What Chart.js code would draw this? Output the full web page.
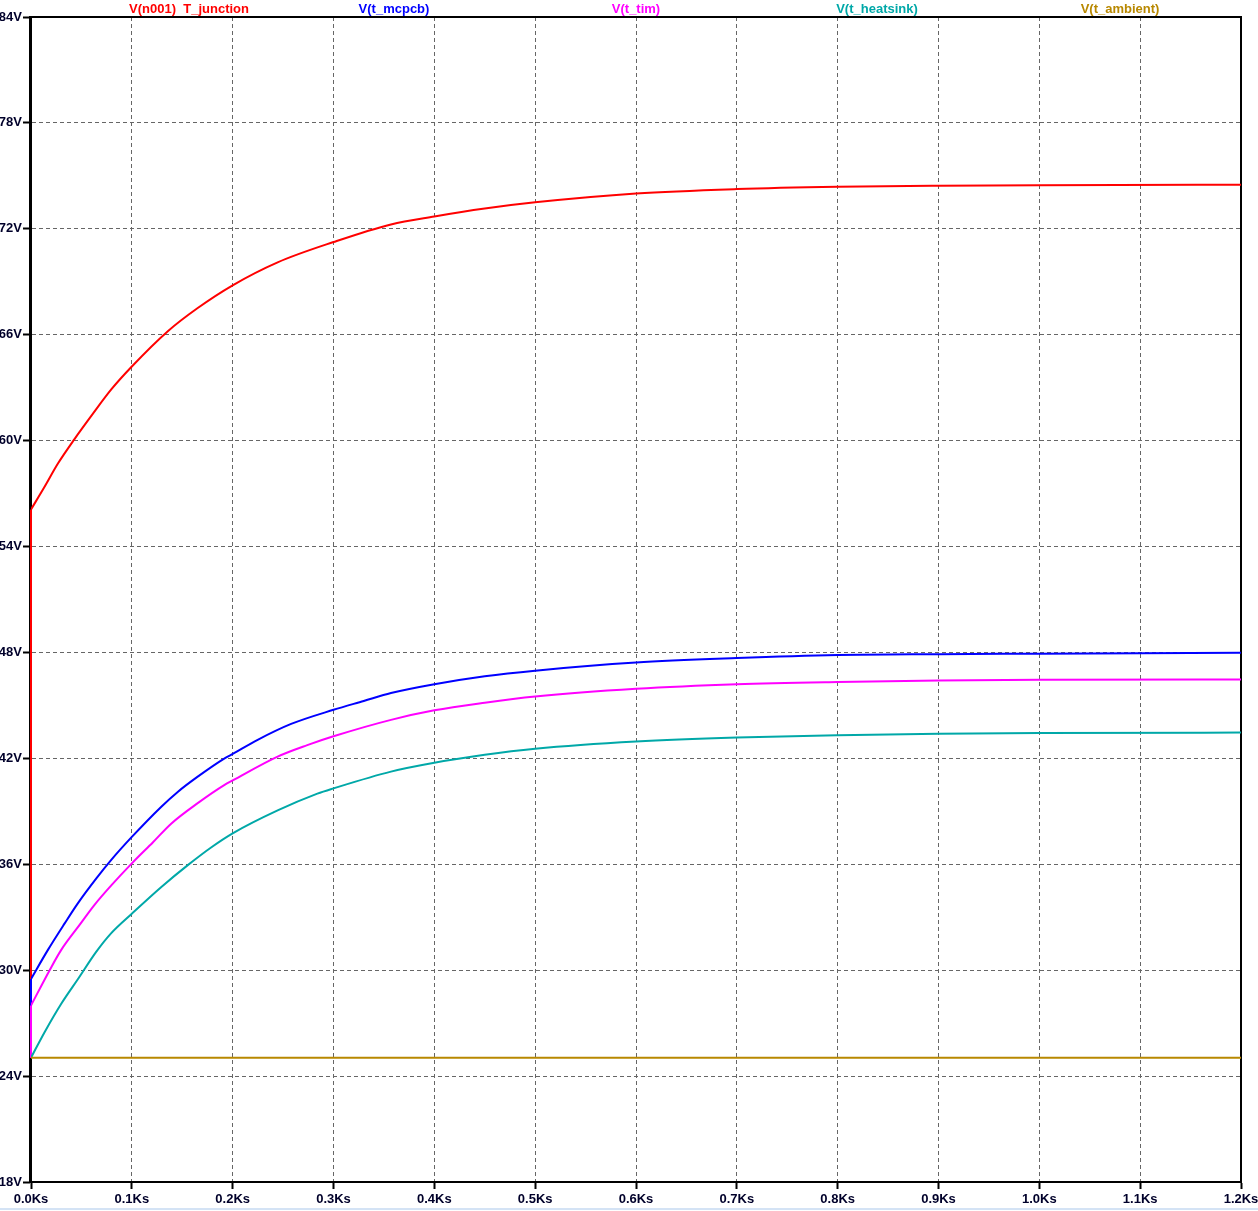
<!DOCTYPE html>
<html>
<head>
<meta charset="utf-8">
<title>LTspice thermal transient</title>
<script src="https://cdn.jsdelivr.net/npm/chart.js@4.4.1/dist/chart.umd.min.js"></script>
<style>
  html, body { margin: 0; padding: 0; background: #fff; }
  #wrap { width: 1258px; height: 1211px; }
</style>
</head>
<body>
<div id="wrap"><canvas id="tempChart"></canvas></div>
<script>
// time in Ks, values in V (= deg C)
const tJunction = [0, 0.0136, 0.0267, 0.0433, 0.0598, 0.0796, 0.1, 0.1357, 0.165, 0.2, 0.2446, 0.3, 0.357, 0.4, 0.45, 0.5, 0.6, 0.7, 0.8, 0.9, 1.0, 1.2];
const vJunction = [56.1, 57.4, 58.7, 60.1, 61.4, 62.9, 64.2, 66.2, 67.5, 68.8, 70.1, 71.25, 72.25, 72.7, 73.15, 73.5, 74.0, 74.25, 74.38, 74.44, 74.47, 74.5];

const tMcpcb = [0, 0.0168, 0.0334, 0.0466, 0.0648, 0.0796, 0.1, 0.129, 0.1455, 0.165, 0.192, 0.2, 0.2248, 0.258, 0.3, 0.33, 0.357, 0.4, 0.45, 0.5, 0.6, 0.7, 0.8, 0.9, 1.0, 1.2];
const vMcpcb = [29.5, 31.15, 32.65, 33.8, 35.2, 36.25, 37.55, 39.25, 40.1, 40.95, 42.0, 42.25, 43.05, 43.95, 44.75, 45.25, 45.7, 46.2, 46.65, 46.97, 47.43, 47.68, 47.85, 47.9, 47.93, 47.99];

const tTim = [0, 0.0185, 0.03, 0.048, 0.063, 0.0796, 0.1, 0.121, 0.139, 0.165, 0.192, 0.2, 0.2446, 0.274, 0.3, 0.357, 0.4, 0.45, 0.5, 0.6, 0.7, 0.8, 0.9, 1.0, 1.2];
const vTim = [28.0, 30.0, 31.15, 32.55, 33.7, 34.8, 36.05, 37.25, 38.3, 39.45, 40.5, 40.75, 42.1, 42.75, 43.25, 44.18, 44.72, 45.15, 45.5, 45.94, 46.2, 46.33, 46.41, 46.45, 46.47];

const tHeatsink = [0, 0.0136, 0.03, 0.0466, 0.0648, 0.0796, 0.1, 0.129, 0.1555, 0.1786, 0.2, 0.2446, 0.284, 0.3, 0.357, 0.4, 0.45, 0.5, 0.6, 0.7, 0.8, 0.9, 1.0, 1.2];
const vHeatsink = [25.04, 26.5, 28.1, 29.5, 31.05, 32.1, 33.2, 34.7, 35.95, 36.95, 37.75, 39.05, 40.0, 40.3, 41.25, 41.75, 42.2, 42.54, 42.95, 43.18, 43.31, 43.39, 43.44, 43.46];

const tAmbient = [0, 1.2];
const vAmbient = [25.04, 25.04];

// step at t = 0: every node starts from ambient
const startLevel = 25.04;

const xTicks = [0, 0.1, 0.2, 0.3, 0.4, 0.5, 0.6, 0.7, 0.8, 0.9, 1.0, 1.1, 1.2];
const yTicks = [18, 24, 30, 36, 42, 48, 54, 60, 66, 72, 78, 84];

const traceNames = ["V(n001)  T_junction", "V(t_mcpcb)", "V(t_tim)", "V(t_heatsink)", "V(t_ambient)"];
const traceColors = ["#ff0000", "#0000ff", "#ff00ff", "#00a8a8", "#b88800"];
const traceLabelX = [189, 394, 636, 877, 1120];

function pts(ts, vs) {
  return ts.map((t, i) => ({ x: t, y: vs[i] }));
}
// vertical step segment at t = 0
function stepSet(vs, color, order) {
  return {
    label: 'step',
    data: [{ x: 0, y: startLevel }, { x: 0, y: vs[0] }],
    borderColor: color,
    order: order,
    cubicInterpolationMode: 'default',
    tension: 0,
    stepped: true,
    clip: false
  };
}

// frame + trace names, LTspice style
const frameAndNames = {
  id: 'frameAndNames',
  beforeDatasetsDraw(chart) {
    const { ctx, chartArea } = chart;
    ctx.save();
    ctx.strokeStyle = '#000';
    ctx.lineWidth = 2;
    ctx.strokeRect(chartArea.left - 1, chartArea.top, chartArea.right - chartArea.left + 1, chartArea.bottom - chartArea.top);
    ctx.restore();
  },
  afterDraw(chart) {
    const ctx = chart.ctx;
    ctx.save();
    ctx.font = 'bold 13px "Liberation Sans", Arial, sans-serif';
    ctx.textAlign = 'center';
    ctx.textBaseline = 'alphabetic';
    traceNames.forEach((name, i) => {
      ctx.fillStyle = traceColors[i];
      ctx.fillText(name, traceLabelX[i], 13);
    });
    // window edge line at the very bottom
    ctx.fillStyle = '#d4e3f5';
    ctx.fillRect(0, 1208, chart.width, 2);
    ctx.restore();
  }
};

const ctx = document.getElementById('tempChart').getContext('2d');
new Chart(ctx, {
  type: 'line',
  data: {
    datasets: [
      { label: traceNames[0], data: pts(tJunction, vJunction), borderColor: traceColors[0], order: 5 },
      stepSet(vJunction, traceColors[0], 5),
      { label: traceNames[1], data: pts(tMcpcb, vMcpcb), borderColor: traceColors[1], order: 4 },
      stepSet(vMcpcb, traceColors[1], 4),
      { label: traceNames[2], data: pts(tTim, vTim), borderColor: traceColors[2], order: 3 },
      stepSet(vTim, traceColors[2], 3),
      { label: traceNames[3], data: pts(tHeatsink, vHeatsink), borderColor: traceColors[3], order: 2 },
      { label: traceNames[4], data: pts(tAmbient, vAmbient), borderColor: traceColors[4], order: 1 }
    ]
  },
  options: {
    responsive: true,
    maintainAspectRatio: false,
    animation: false,
    layout: { padding: { top: 17, right: 17, left: 0, bottom: 0 } },
    elements: {
      line: { borderWidth: 2, fill: false, cubicInterpolationMode: 'monotone' },
      point: { radius: 0 }
    },
    plugins: {
      legend: { display: false },
      tooltip: { enabled: false }
    },
    scales: {
      x: {
        type: 'linear',
        min: 0,
        max: 1.2,
        afterBuildTicks: (scale) => { scale.ticks = xTicks.map(v => ({ value: v })); },
        afterFit: (scale) => {
          scale.height = 29;
          scale.paddingLeft = 0;
          scale.paddingRight = 0;
        },
        ticks: {
          padding: 3,
          color: '#00002a',
          font: { family: '"Liberation Sans", Arial, sans-serif', size: 13, weight: 'bold' },
          maxRotation: 0,
          autoSkip: false,
          callback: (v) => Number(v).toFixed(1) + 'Ks'
        },
        grid: { color: '#666', lineWidth: 1, tickLength: 7, tickColor: '#000', tickWidth: 2 },
        border: { color: '#000', width: 2, dash: [4, 3] }
      },
      y: {
        type: 'linear',
        min: 18,
        max: 84,
        afterBuildTicks: (scale) => { scale.ticks = yTicks.map(v => ({ value: v })); },
        afterFit: (scale) => {
          scale.width = 31;
          scale.paddingTop = 0;
          scale.paddingBottom = 0;
        },
        ticks: {
          padding: 1,
          color: '#00002a',
          font: { family: '"Liberation Sans", Arial, sans-serif', size: 13, weight: 'bold' },
          autoSkip: false,
          callback: (v) => v + 'V'
        },
        grid: { color: '#666', lineWidth: 1, tickLength: 8, tickColor: '#000', tickWidth: 2 },
        border: { color: '#000', width: 2, dash: [4, 3] }
      }
    }
  },
  plugins: [frameAndNames]
});
</script>
</body>
</html>
